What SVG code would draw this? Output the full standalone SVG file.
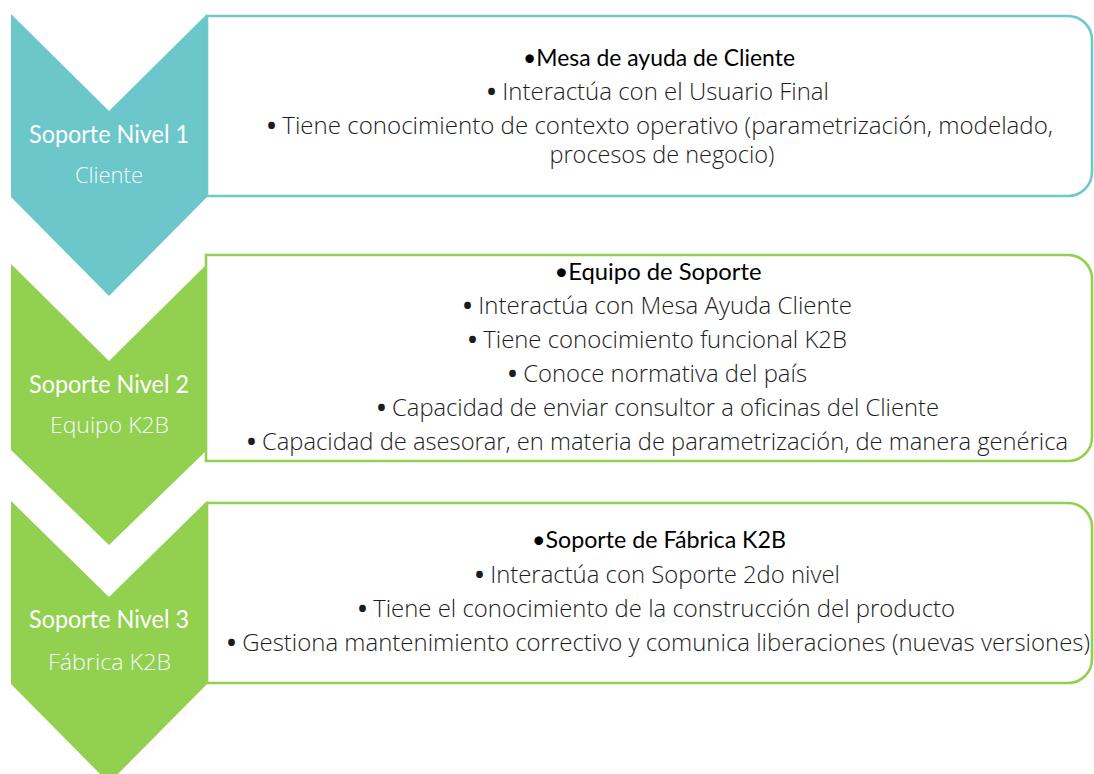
<svg xmlns="http://www.w3.org/2000/svg" width="1094" height="774" viewBox="0 0 1094 774">
<style>
.teal{fill:#6BC7C9}
.green{fill:#92D050}
.boxT{fill:#fff;stroke:#6EC9CB;stroke-width:2.6}
.boxG{fill:#fff;stroke:#92D050;stroke-width:2.6}
.lvl{font-family:Lato,"Liberation Sans",sans-serif;font-size:25px;fill:#fff;text-anchor:middle}
.sub{font-family:"Open Sans","Liberation Sans",sans-serif;font-weight:300;font-size:22px;fill:#F4FBFB;text-anchor:middle}
.ttl{font-family:Lato,"Liberation Sans",sans-serif;font-size:24px;fill:#000;text-anchor:middle}
.itm{font-family:"Open Sans","Liberation Sans",sans-serif;font-weight:300;font-size:23px;fill:#1c1c1c;text-anchor:middle}
.b{font-weight:700}
</style>
<rect width="1094" height="774" fill="#fff"/>
<g id="box1">
<path class="boxT" d="M207,16 H1068 A24,24 0 0 1 1092,40 V172 A24,24 0 0 1 1068,196 H207 Z"/>
<text class="ttl" x="659" y="66" textLength="272" lengthAdjust="spacingAndGlyphs">•Mesa de ayuda de Cliente</text>
<text class="itm" x="658" y="100" textLength="342" lengthAdjust="spacingAndGlyphs"><tspan class="b">•</tspan> Interactúa con el Usuario Final</text>
<text class="itm" x="660" y="134" textLength="786" lengthAdjust="spacingAndGlyphs"><tspan class="b">•</tspan> Tiene conocimiento de contexto operativo (parametrización, modelado,</text>
<text class="itm" x="662" y="163" textLength="225" lengthAdjust="spacingAndGlyphs">procesos de negocio)</text>
</g>
<g id="box2">
<path class="boxG" d="M206,255 H1068 A24,24 0 0 1 1092,279 V437 A24,24 0 0 1 1068,461 H206 Z"/>
<text class="ttl" x="658" y="280" textLength="207" lengthAdjust="spacingAndGlyphs">•Equipo de Soporte</text>
<text class="itm" x="657.5" y="314" textLength="389" lengthAdjust="spacingAndGlyphs"><tspan class="b">•</tspan> Interactúa con Mesa Ayuda Cliente</text>
<text class="itm" x="657.5" y="348" textLength="379" lengthAdjust="spacingAndGlyphs"><tspan class="b">•</tspan> Tiene conocimiento funcional K2B</text>
<text class="itm" x="657.5" y="382" textLength="299" lengthAdjust="spacingAndGlyphs"><tspan class="b">•</tspan> Conoce normativa del país</text>
<text class="itm" x="658" y="416" textLength="562" lengthAdjust="spacingAndGlyphs"><tspan class="b">•</tspan> Capacidad de enviar consultor a oficinas del Cliente</text>
<text class="itm" x="657.5" y="450" textLength="821" lengthAdjust="spacingAndGlyphs"><tspan class="b">•</tspan> Capacidad de asesorar, en materia de parametrización, de manera genérica</text>
</g>
<g id="box3">
<path class="boxG" d="M207,503 H1068 A24,24 0 0 1 1092,527 V659 A24,24 0 0 1 1068,683 H207 Z"/>
<text class="ttl" x="659" y="548" textLength="254" lengthAdjust="spacingAndGlyphs">•Soporte de Fábrica K2B</text>
<text class="itm" x="657.5" y="583" textLength="365" lengthAdjust="spacingAndGlyphs"><tspan class="b">•</tspan> Interactúa con Soporte 2do nivel</text>
<text class="itm" x="656.5" y="617" textLength="597" lengthAdjust="spacingAndGlyphs"><tspan class="b">•</tspan> Tiene el conocimiento de la construcción del producto</text>
<text class="itm" x="658.5" y="651" textLength="863" lengthAdjust="spacingAndGlyphs"><tspan class="b">•</tspan> Gestiona mantenimiento correctivo y comunica liberaciones (nuevas versiones)</text>
</g>
<g id="level1">
<polygon class="teal" points="11,14 109,111 207,14 207,197 109,296 11,197"/>
<text class="lvl" x="109" y="143" textLength="160" lengthAdjust="spacingAndGlyphs">Soporte Nivel 1</text>
<text class="sub" x="109" y="183">Cliente</text>
</g>
<g id="level2">
<polygon class="green" points="11,264 109,361 207,264 207,450 109,545 11,450"/>
<text class="lvl" x="109" y="393" textLength="160" lengthAdjust="spacingAndGlyphs">Soporte Nivel 2</text>
<text class="sub" x="109.5" y="433" textLength="119" lengthAdjust="spacingAndGlyphs">Equipo K2B</text>
</g>
<g id="level3">
<polygon class="green" points="11,501 109,597 207,501 207,684 109,783 11,684"/>
<text class="lvl" x="109" y="628" textLength="160" lengthAdjust="spacingAndGlyphs">Soporte Nivel 3</text>
<text class="sub" x="109.5" y="670" textLength="123" lengthAdjust="spacingAndGlyphs">Fábrica K2B</text>
</g>
<g id="connectors"/>
</svg>
